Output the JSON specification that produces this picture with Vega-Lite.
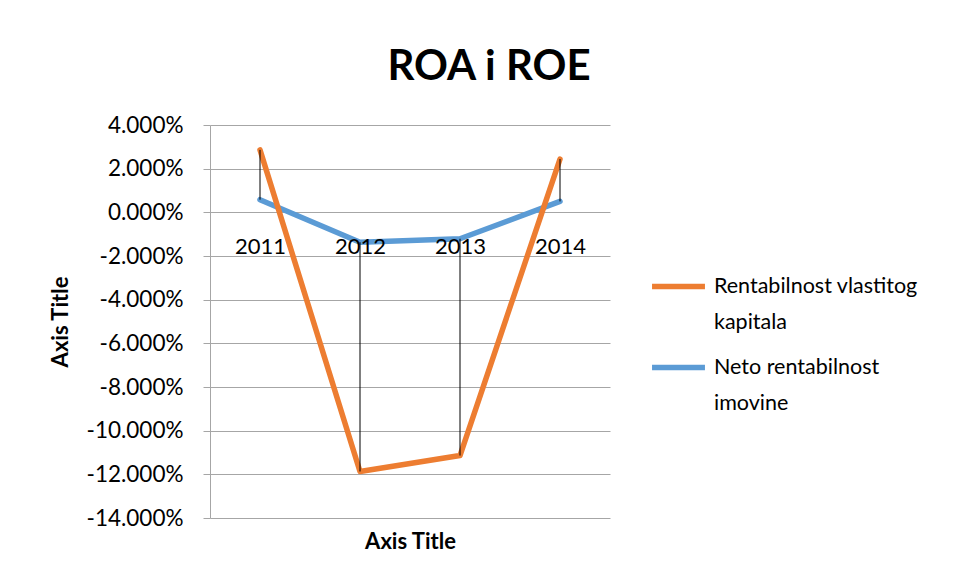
{
  "$schema": "https://vega.github.io/schema/vega-lite/v6.json",
  "autosize": "none",
  "width": 400,
  "height": 393,
  "padding": {"left": 210, "top": 125, "right": 347, "bottom": 63},
  "background": "white",
  "config": {"view": {"stroke": null}, "style": {"guide-label": {"lineHeight": 36}}},
  "title": {"text": "ROA i ROE", "font": "Lato", "fontSize": 42, "fontWeight": "bold", "color": "black", "anchor": "middle", "dx": 79, "offset": 25},
  "data": {"values": [
    {"year": "2011", "series": "Neto rentabilnost imovine", "value": 0.0058},
    {"year": "2012", "series": "Neto rentabilnost imovine", "value": -0.0137},
    {"year": "2013", "series": "Neto rentabilnost imovine", "value": -0.0121},
    {"year": "2014", "series": "Neto rentabilnost imovine", "value": 0.0050},
    {"year": "2011", "series": "Rentabilnost vlastitog kapitala", "value": 0.0286},
    {"year": "2012", "series": "Rentabilnost vlastitog kapitala", "value": -0.1187},
    {"year": "2013", "series": "Rentabilnost vlastitog kapitala", "value": -0.1114},
    {"year": "2014", "series": "Rentabilnost vlastitog kapitala", "value": 0.0244}
  ]},
  "layer": [
    {
      "mark": {"type": "line", "strokeWidth": 5.5, "strokeCap": "round", "strokeJoin": "round"},
      "encoding": {
        "x": {"field": "year", "type": "ordinal", "scale": {"type": "point", "padding": 0.5},
          "axis": {"title": "Axis Title", "orient": "bottom", "offset": -305.3, "domain": false, "ticks": false, "grid": false, "labelAngle": 0,
            "labelFont": "Lato", "labelFontSize": 22, "labelColor": "black", "labelPadding": 24,
            "titleFont": "Lato", "titleFontSize": 22, "titleFontWeight": "bold", "titleColor": "black", "titlePadding": 274, "zindex": 1}},
        "y": {"field": "value", "type": "quantitative", "scale": {"domain": [-0.14, 0.04], "nice": false, "zero": false},
          "axis": {"title": "Axis Title", "values": [-0.14, -0.12, -0.1, -0.08, -0.06, -0.04, -0.02, 0, 0.02, 0.04],
            "labelExpr": "replace(format(datum.value, '.3%'), '\u2212', '-')",
            "domainColor": "#A6A6A6", "tickColor": "#A6A6A6", "tickSize": 7, "gridColor": "#A6A6A6", "gridWidth": 1, "gridOpacity": 1,
            "labelFont": "Lato", "labelFontSize": 22.5, "labelColor": "black", "labelPadding": 20,
            "titleFont": "Lato", "titleFontSize": 22, "titleFontWeight": "bold", "titleColor": "black", "titlePadding": 14}},
        "color": {"field": "series", "type": "nominal",
          "scale": {"domain": ["Rentabilnost vlastitog kapitala", "Neto rentabilnost imovine"], "range": ["#ED7D31", "#5B9BD5"]},
          "legend": {"orient": "none", "legendX": 439, "legendY": 132, "title": null, "symbolType": "stroke", "symbolSize": 2800, "symbolStrokeWidth": 5.5,
            "labelFont": "Lato", "labelFontSize": 21.5, "labelColor": "black", "labelLimit": 400, "labelOffset": 6, "rowPadding": 5,
            "labelExpr": "datum.label == 'Rentabilnost vlastitog kapitala' ? ['Rentabilnost vlastitog', 'kapitala'] : ['Neto rentabilnost', 'imovine']"}},
        "order": {"field": "year"}
      }
    },
    {
      "mark": {"type": "rule", "color": "black", "strokeWidth": 1},
      "encoding": {
        "x": {"field": "year", "type": "ordinal"},
        "y": {"aggregate": "max", "field": "value", "type": "quantitative"},
        "y2": {"aggregate": "min", "field": "value"}
      }
    }
  ]
}
